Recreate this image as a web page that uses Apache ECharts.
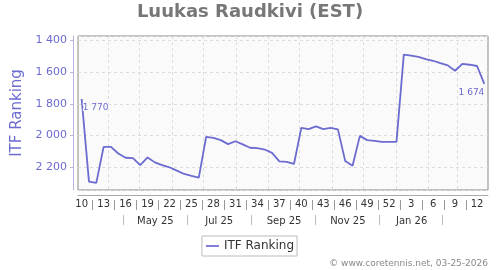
<!DOCTYPE html>
<html>
<head>
<meta charset="utf-8">
<script src="https://cdn.jsdelivr.net/npm/echarts@6/dist/echarts.min.js"></script>
<style>
html,body{margin:0;padding:0;background:#fff;}
#chart{width:500px;height:270px;}
</style>
</head>
<body>
<div id="chart"></div>
<script>
// ---- data ----
var chartTitle = 'Luukas Raudkivi (EST)';
var seriesName = 'ITF Ranking';
var weekLabels = ['10','11','12','13','14','15','16','17','18','19','20','21','22','23','24','25','26','27','28','29','30','31','32','33','34','35','36','37','38','39','40','41','42','43','44','45','46','47','48','49','50','51','52','1','2','3','4','5','6','7','8','9','10','11','12','13'];
var itfRanking = [1770,2290,2298,2071,2071,2113,2140,2142,2186,2138,2169,2186,2200,2221,2242,2254,2265,2009,2015,2029,2054,2036,2056,2077,2079,2088,2109,2163,2166,2179,1952,1959,1942,1959,1952,1961,2161,2190,2002,2029,2034,2040,2040,2040,1490,1496,1504,1519,1529,1544,1558,1592,1548,1554,1562,1674];
var firstWeekStart = '2025-03-03';
var monthKeys = ['2025-05','2025-07','2025-09','2025-11','2026-01'];
var monthLabels = ['May 25','Jul 25','Sep 25','Nov 25','Jan 26'];
var footerText = '\u00a9 www.coretennis.net, 03-25-2026';

// ---- axis helpers: week boundaries and day boundaries ----
function pad(n){return (n<10?'0':'')+n;}
var weekBounds = [];
for (var w = 0; w <= weekLabels.length; w++) weekBounds.push('b' + w);
var dayBounds = [];
(function(){
  var p = firstWeekStart.split('-');
  var t = Date.UTC(+p[0], +p[1]-1, +p[2]);
  for (var k = 0; k <= weekLabels.length*7; k++) {
    var d = new Date(t + k*86400000);
    dayBounds.push(d.getUTCFullYear()+'-'+pad(d.getUTCMonth()+1)+'-'+pad(d.getUTCDate()));
  }
})();
function parts(v){var p=v.split('-');return {y:+p[0],m:+p[1],d:+p[2]};}
function dim(y,m){return new Date(Date.UTC(y,m,0)).getUTCDate();}

function fmtNum(v){
  var s = String(Math.round(v));
  return s.replace(/\B(?=(\d{3})+(?!\d))/g,' ');
}

var lineColor = '#6b6bd0';
var font = 'DejaVu Sans';

var seriesData = itfRanking.map(function(v, i){
  var item = {value: v};
  if (i === 0) {
    item.label = {show:true, position:'bottom', align:'left', distance:4, offset:[1,0]};
  } else if (i === itfRanking.length-1) {
    item.label = {show:true, position:'bottom', align:'right', distance:4, offset:[0,0]};
  }
  return item;
});

var chart = echarts.init(document.getElementById('chart'), null, {renderer:'canvas'});
chart.setOption({
  animation:false,
  textStyle:{fontFamily:font},
  title:[{
    text: chartTitle, left:'center', top:3, padding:0,
    textStyle:{fontSize:18, fontWeight:'bold', color:'#777', fontFamily:font}
  },{
    text: footerText, right:12, bottom:2, padding:0,
    textStyle:{fontSize:9, fontWeight:'normal', color:'#888', fontFamily:font}
  }],
  legend:{
    top:236, left:'center',
    data:[{name:seriesName, icon:'rect', itemStyle:{color:'#8080d8', opacity:1}}],
    itemWidth:13, itemHeight:2, itemGap:5,
    padding:[4,3,4,4],
    borderColor:'#bbb', borderWidth:1,
    textStyle:{fontSize:12, color:'#333', fontFamily:font}
  },
  grid:{left:78, right:12, top:36, bottom:80, show:true, borderColor:'#888', borderWidth:1, backgroundColor:'#fafafa', containLabel:false},
  xAxis:[{
    type:'category', data:weekLabels, boundaryGap:true, position:'bottom', offset:5,
    axisLine:{show:true, lineStyle:{color:'#aaa', width:1}},
    axisTick:{show:false},
    axisLabel:{interval:2, fontSize:10, color:'#333', margin:4, fontFamily:font},
    splitLine:{show:false}
  },{
    type:'category', data:weekBounds, boundaryGap:false, position:'bottom', offset:10,
    axisLine:{show:false},
    axisTick:{show:true, length:10, interval:function(i){return i%3===2 && i < weekLabels.length;}, lineStyle:{color:'#999'}},
    axisLabel:{show:false},
    splitLine:{show:false}
  },{
    type:'category', data:dayBounds, boundaryGap:false, position:'bottom', offset:25,
    axisLine:{show:false},
    axisTick:{show:true, length:10, lineStyle:{color:'#bbb'},
      interval:function(i){
        if (i <= 0 || i >= dayBounds.length-1) return false;
        var p = parts(dayBounds[i]);
        if (p.m % 2 !== 0) return false;
        return p.d === Math.round(dim(p.y,p.m)/2);
      }},
    axisLabel:{show:true, fontSize:10, color:'#333', margin:1, fontFamily:font,
      interval:function(i){
        var p = parts(dayBounds[i]);
        return p.d === 16 && monthKeys.indexOf(p.y+'-'+pad(p.m)) >= 0;
      },
      formatter:function(v){
        var p = parts(v);
        var k = monthKeys.indexOf(p.y+'-'+pad(p.m));
        return k >= 0 ? monthLabels[k] : '';
      }},
    splitLine:{show:true, lineStyle:{color:'#dcdcdc', type:[3,3], width:1},
      interval:function(i){ return parts(dayBounds[i]).d === 1; }}
  }],
  yAxis:{
    type:'value', inverse:true, min:1373, max:2343,
    splitNumber:5, minInterval:200, maxInterval:200,
    offset:5,
    name:seriesName, nameLocation:'middle', nameGap:40, nameRotate:90,
    nameTextStyle:{fontSize:15, color:lineColor, fontFamily:font},
    axisLine:{show:true, lineStyle:{color:'#b4b4e4', width:1}},
    axisTick:{show:true, length:3, lineStyle:{color:'#b4b4e4'}},
    axisLabel:{fontSize:11, color:lineColor, margin:6, showMinLabel:false, showMaxLabel:false,
      formatter:function(v){return fmtNum(v);}, fontFamily:font},
    splitLine:{show:true, lineStyle:{color:'#dcdcdc', type:[3,3], width:1}}
  },
  series:[{
    name:seriesName, type:'line', xAxisIndex:0, yAxisIndex:0,
    data:seriesData,
    symbol:'circle', symbolSize:1, showSymbol:true,
    itemStyle:{color:'rgba(0,0,0,0)'},
    lineStyle:{color:lineColor, width:1.8},
    label:{show:false, fontSize:9, color:lineColor, fontFamily:font,
      formatter:function(p){return fmtNum(p.value);},
      textBorderColor:'#fafafa', textBorderWidth:2},
    emphasis:{disabled:true},
    z:3
  }]
});
</script>
</body>
</html>
